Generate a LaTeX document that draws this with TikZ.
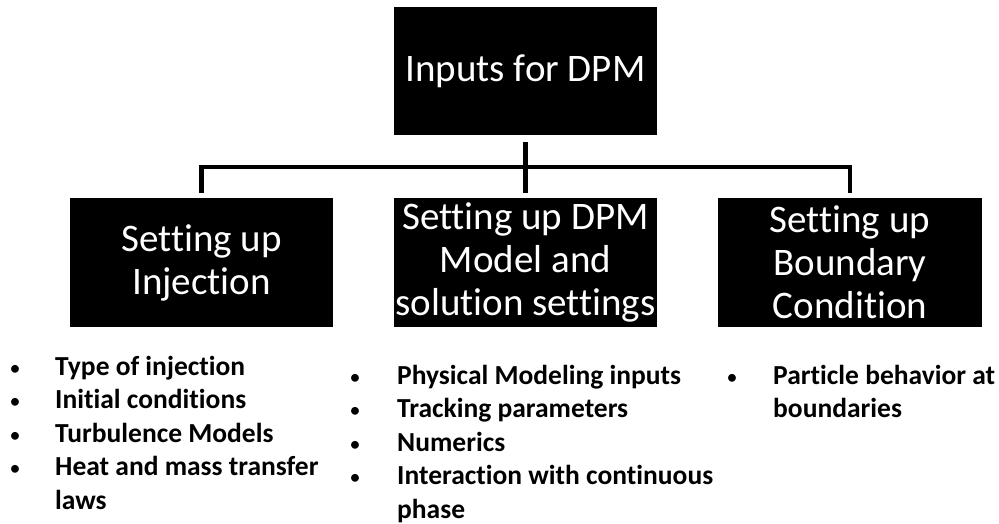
\documentclass[tikz,border=0pt]{standalone}
\usepackage{fontspec}
\setmainfont{Carlito}[Ligatures=NoCommon]
\begin{document}
\begin{tikzpicture}[x=1pt,y=-1pt,
  box/.style={fill=black, text=white, inner sep=0pt, align=center,
    minimum width=263pt, minimum height=129pt,
    font=\fontsize{39}{43}\selectfont},
  conn/.style={draw=black, line width=4.5pt, line join=miter},
  dot/.style={anchor=base, inner sep=0pt, font=\fontsize{22}{33.5}\selectfont},
  itemtext/.style={anchor=base west, inner sep=0pt,
    font=\bfseries\fontsize{27.5}{33.5}\selectfont}]
\useasboundingbox (0,0) rectangle (999,523);

% boxes
\node[box, minimum height=128pt] (top) at (525.5,71) {Inputs for DPM};
\node[box] (inj) at (201.5,262.5) {Setting up\\Injection};
\node[box] (mid) at (525.5,262.5) {Setting up DPM\\Model and\\solution settings};
\node[box, minimum width=264pt] (bnd) at (850,262.5) {Setting up\\Boundary\\Condition};

% connectors
\coordinate (bus) at (525.5,167);
\draw[conn] ([yshift=-7pt]top.south) -- ([yshift=5pt]mid.north);
\draw[conn] ([yshift=5pt]inj.north) |- (bus) -| ([yshift=5pt]bnd.north);

% left list
\foreach \yy/\tt [count=\i] in {375/Type of injection, 408.5/Initial conditions,
    442/Turbulence Models, 475.5/Heat and mass transfer} {
  \node[dot] (ld\i) at (15,\yy) {•};
  \node[itemtext] (lt\i) at (55,\yy) {\tt};
}
\node[itemtext] (lt5) at (55,509) {laws};

% middle list
\foreach \yy/\tt [count=\i] in {384/Physical Modeling inputs, 417.5/Tracking parameters,
    451/Numerics, 484.5/Interaction with continuous} {
  \node[dot] (md\i) at (355,\yy) {•};
  \node[itemtext] (mt\i) at (397,\yy) {\tt};
}
\node[itemtext] (mt5) at (397,518) {phase};

% right list
\node[dot] (rd1) at (732,384) {•};
\node[itemtext] (rt1) at (773,384) {Particle behavior at};
\node[itemtext] (rt2) at (773,417.5) {boundaries};
\end{tikzpicture}
\end{document}
